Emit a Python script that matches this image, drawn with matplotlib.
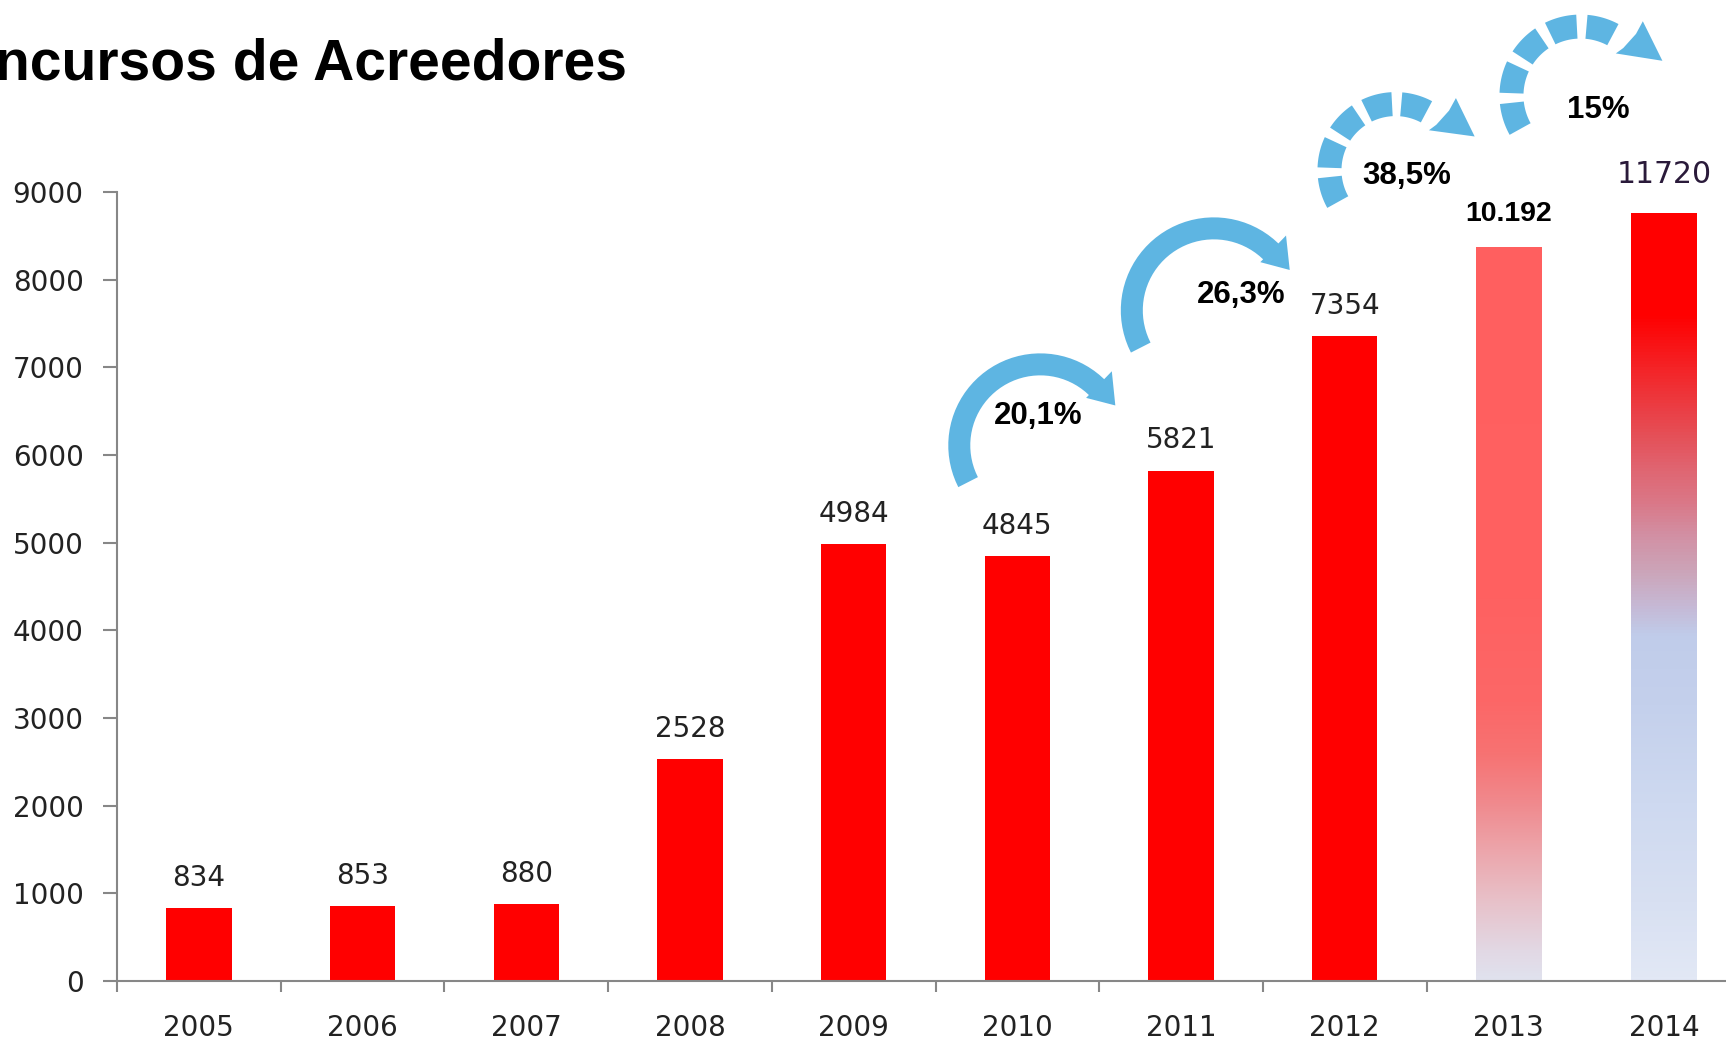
import numpy as np
import matplotlib
matplotlib.use('Agg')
import matplotlib.pyplot as plt
from matplotlib.patches import Polygon
from matplotlib.transforms import ScaledTranslation
from matplotlib.colors import LinearSegmentedColormap

# Data
years = ['2005', '2006', '2007', '2008', '2009', '2010', '2011', '2012', '2013', '2014']
bar_values = [834, 853, 880, 2528, 4984, 4845, 5821, 7354, 8370, 8760]   # drawn heights
value_labels = ['834', '853', '880', '2528', '4984', '4845', '5821', '7354', '10.192', '11720']
growth_labels = ['20,1%', '26,3%', '38,5%', '15%']

# layout of the growth arrows (center of arc in data units, radius in px)
arrow_centers = [(5.14, 6110), (6.20, 7650), (7.31, 9250), (8.44, 10100)]
arrow_radius = [81, 82, 66, 69]
arrow_dashed = [False, False, True, True]
growth_xy = [(5.13, 6445), (6.37, 7825), (7.38, 9182), (8.55, 9935)]

RED = '#FF0000'
GREY = '#878787'
BLUE = '#5EB5E2'
TXT = '#222222'

# gradients for the last two bars: (fraction from top, colour)
grad_2013 = [(0.0, '#FF5F5F'), (0.48, '#FF6161'), (0.62, '#FC6767'), (0.69, '#F77272'),
             (0.76, '#F08A8E'), (0.83, '#ECA8AE'), (0.89, '#E8C0C8'), (0.96, '#E2D8E4'),
             (1.0, '#E0E2EE')]
grad_2014 = [(0.0, '#FF0000'), (0.13, '#FF0000'), (0.20, '#F42427'), (0.245, '#EC3A40'),
             (0.29, '#E55058'), (0.33, '#E06470'), (0.377, '#DA7888'), (0.42, '#D290A4'),
             (0.465, '#CCA4B8'), (0.51, '#C6B8D4'), (0.55, '#C0CCEA'), (0.64, '#C4D0EC'),
             (0.77, '#CED9F0'), (0.90, '#D8E0F2'), (1.0, '#E2E8F5')]

fig = plt.figure(figsize=(17.26, 10.45), dpi=100)
ax = fig.add_axes([117 / 1726, 64 / 1045, 1609 / 1726, 789 / 1045])

x = np.r_[np.arange(9), 8.95]
colors = [RED] * 8 + ['none', 'none']
bars = ax.bar(x, bar_values, width=0.40, color=colors, zorder=2)

ramp = np.linspace(0, 1, 256).reshape(-1, 1)
for rect, stops in zip(bars[8:], [grad_2013, grad_2014]):
    cmap = LinearSegmentedColormap.from_list('g', [(1 - f, c) for f, c in reversed(stops)])
    x0, w, h = rect.get_x(), rect.get_width(), rect.get_height()
    ax.imshow(ramp, extent=[x0, x0 + w, 0, h], origin='lower', aspect='auto',
              cmap=cmap, zorder=2)

ax.set_xlim(-0.5, -0.5 + 1609 / 163.7)
ax.set_ylim(0, 9000)

# value labels
for i, (rect, lab) in enumerate(zip(bars, value_labels)):
    cx = rect.get_x() + rect.get_width() / 2
    if i == 8:
        ax.annotate(lab, (cx, rect.get_height()), xytext=(0, 19), textcoords='offset points',
                    ha='center', va='baseline', fontsize=20.5, fontweight='bold',
                    family='Liberation Sans', color='black', annotation_clip=False)
    elif i == 9:
        ax.annotate(lab, (cx, rect.get_height()), xytext=(0, 21.5), textcoords='offset points',
                    ha='center', va='baseline', fontsize=21.5, color='#2a1a3a',
                    annotation_clip=False)
    else:
        ax.annotate(lab, (cx, rect.get_height()), xytext=(0, 16), textcoords='offset points',
                    ha='center', va='baseline', fontsize=20, color=TXT,
                    annotation_clip=False)


def sector(a_from, a_to, r_in, r_out, n=40):
    t = np.radians(np.linspace(a_from, a_to, n))
    outer = np.c_[r_out * np.cos(t), r_out * np.sin(t)]
    inner = np.c_[r_in * np.cos(t[::-1]), r_in * np.sin(t[::-1])]
    return np.vstack([outer, inner])


def polar(pts, r):
    # (radius offset, angle in degrees) -> xy in px
    return np.array([[(r + dr) * np.cos(np.radians(a)), (r + dr) * np.sin(np.radians(a))]
                     for dr, a in pts])


def curved_arrow(center, r, dashed):
    # shape built in pixels around the centre, then scaled to inches
    tr = fig.dpi_scale_trans + ScaledTranslation(center[0], center[1], ax.transData)
    pieces = []
    if dashed:
        w = 24
        a = 209
        for _ in range(5):
            pieces.append(sector(a, a - 23, r - w / 2, r + w / 2))
            a -= 31
        # separate arrow head after the last gap
        pieces.append(polar([(28, 50), (20, 23), (-14, 50), (-5, 48), (14, 48)], r))
    else:
        w = 22
        body = sector(207, 46, r - w / 2, r + w / 2)
        head = polar([(22, 46), (4, 28), (-15, 46)], r)
        pieces.append(np.vstack([body[:40], head, body[40:]]))
    for p in pieces:
        ax.add_patch(Polygon(p / fig.dpi, closed=True, transform=tr, facecolor=BLUE,
                             edgecolor='none', clip_on=False, zorder=3))


for c, r, d in zip(arrow_centers, arrow_radius, arrow_dashed):
    curved_arrow(c, r, d)

for lab, (gx, gy) in zip(growth_labels, growth_xy):
    ax.text(gx, gy, lab, ha='center', va='center', fontsize=22.5, fontweight='bold',
            family='Liberation Sans', color='black', clip_on=False, zorder=4)

# axes styling
for s in ['top', 'right']:
    ax.spines[s].set_visible(False)
for s in ['left', 'bottom']:
    ax.spines[s].set_color(GREY)
    ax.spines[s].set_linewidth(1.5)

ax.set_yticks(np.arange(0, 9001, 1000))
ax.tick_params(axis='y', length=10, width=1.5, color=GREY, pad=14, labelsize=20,
               labelcolor=TXT)
ax.set_xticks(x)
ax.set_xticklabels(years)
ax.set_xticks(np.arange(-0.5, 8, 1), minor=True)
ax.tick_params(axis='x', which='major', length=0, pad=24, labelsize=20, labelcolor=TXT)
ax.tick_params(axis='x', which='minor', length=8, width=1.5, color=GREY, direction='out')

fig.text(627 / 1726, 1 - 80 / 1045, 'Concursos de Acreedores', ha='right', va='baseline',
         fontsize=41, fontweight='bold', family='Liberation Sans', color='black')

fig.savefig('out.png', dpi=100)
